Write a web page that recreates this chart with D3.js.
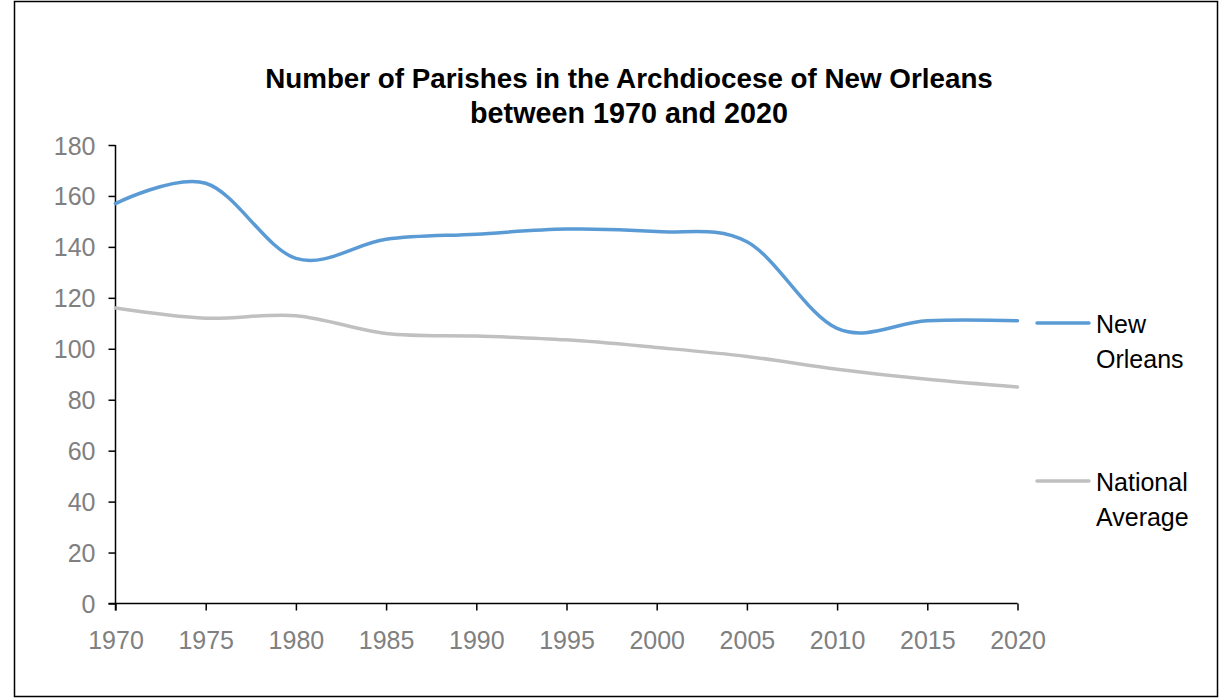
<!DOCTYPE html>
<html>
<head>
<meta charset="utf-8">
<script src="https://cdn.jsdelivr.net/npm/d3@7"></script>
<style>
  html, body { margin: 0; padding: 0; background: #ffffff; }
  svg { display: block; }
</style>
</head>
<body>
<svg id="chart" width="1220" height="698"></svg>
<script>
// ---- Data ----
const years = [1970, 1975, 1980, 1985, 1990, 1995, 2000, 2005, 2010, 2015, 2020];
const newOrleans = [157, 165, 135.5, 143, 145, 147, 146, 142, 108, 111, 111];
const nationalAverage = [116, 112, 113, 106, 105, 103.5, 100.5, 97, 92, 88, 85];
const yTicks = [0, 20, 40, 60, 80, 100, 120, 140, 160, 180];
const seriesNames = [["New", "Orleans"], ["National", "Average"]];
const titleLines = ["Number of Parishes in the Archdiocese of New Orleans", "between 1970 and 2020"];

// ---- Layout ----
const W = 1220, H = 698;
const plot = { left: 115.5, right: 1017.5, top: 145, bottom: 603.5 };
const colors = ["#5b9bd5", "#c0c0c0"];
const fontFamily = "'Liberation Sans', Arial, sans-serif";

const svg = d3.select("#chart");

// Outer border
svg.append("rect")
  .attr("x", 14.5).attr("y", 1.5)
  .attr("width", 1203).attr("height", 695)
  .attr("fill", "#fff").attr("stroke", "#000").attr("stroke-width", 1.5);

const x = d3.scaleLinear().domain([1970, 2020]).range([plot.left, plot.right]);
const y = d3.scaleLinear().domain([0, 180]).range([plot.bottom, plot.top]);

// Title
const titleG = svg.append("g").attr("font-family", fontFamily).attr("font-weight", "bold").attr("fill", "#000");
const titleY = [88, 123];
const titleWidths = [728, 318];
titleLines.forEach((t, i) => {
  const el = titleG.append("text")
    .attr("x", 629).attr("y", titleY[i])
    .attr("text-anchor", "middle")
    .attr("font-size", 24)
    .text(t);
  const w = el.node().getComputedTextLength();
  el.attr("font-size", 24 * titleWidths[i] / w);
});

// Y axis
const yAxis = d3.axisLeft(y).tickValues(yTicks).tickSize(7).tickPadding(13).tickFormat(d3.format("d"));
const gy = svg.append("g").attr("transform", `translate(${plot.left},0)`).call(yAxis);
gy.select(".domain").attr("stroke", "#000").attr("stroke-width", 1.5).attr("d", `M0,${plot.top}V${plot.bottom + 7}`);
gy.selectAll(".tick line").attr("stroke", "#000").attr("stroke-width", 1.5);
gy.selectAll(".tick text").attr("font-family", fontFamily).attr("font-size", 25).attr("fill", "#808080").attr("dy", "0.36em");

// X axis
const xAxis = d3.axisBottom(x).tickValues(years).tickSize(7).tickPadding(18).tickFormat(d3.format("d"));
const gx = svg.append("g").attr("transform", `translate(0,${plot.bottom})`).call(xAxis);
gx.select(".domain").attr("stroke", "#000").attr("stroke-width", 1.5).attr("d", `M${plot.left - 7},0H${plot.right}`);
gx.selectAll(".tick line").attr("stroke", "#000").attr("stroke-width", 1.5);
gx.selectAll(".tick text").attr("font-family", fontFamily).attr("font-size", 25).attr("fill", "#808080").attr("dy", "0.8em");

// Lines
const line = d3.line()
  .x((d, i) => x(years[i]))
  .y(d => y(d))
  .curve(d3.curveCardinal.tension(0));

[newOrleans, nationalAverage].forEach((series, i) => {
  svg.append("path")
    .datum(series)
    .attr("fill", "none")
    .attr("stroke", colors[i])
    .attr("stroke-width", 3.5)
    .attr("stroke-linecap", "round")
    .attr("d", line);
});

// Legend
const legendY = [323, 481];
seriesNames.forEach((names, i) => {
  const g = svg.append("g");
  g.append("line")
    .attr("x1", 1037).attr("x2", 1089)
    .attr("y1", legendY[i]).attr("y2", legendY[i])
    .attr("stroke", colors[i]).attr("stroke-width", 3.5).attr("stroke-linecap", "round");
  names.forEach((n, j) => {
    g.append("text")
      .attr("x", 1096).attr("y", legendY[i] + 10 + j * 35)
      .attr("font-family", fontFamily).attr("font-size", 25).attr("fill", "#000")
      .text(n);
  });
});
</script>
</body>
</html>
